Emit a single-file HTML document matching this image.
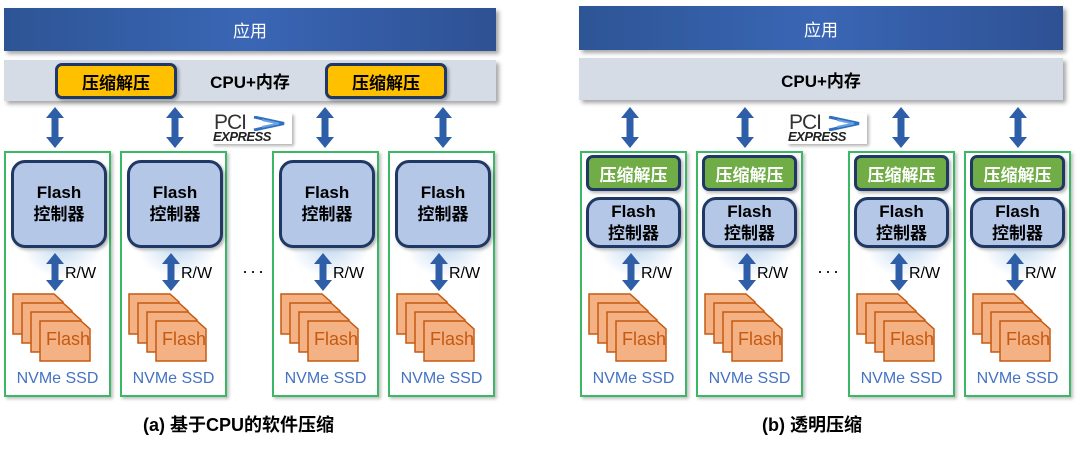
<!DOCTYPE html>
<html><head><meta charset="utf-8">
<style>
body{margin:0;width:1080px;height:449px;background:#fff;position:relative;overflow:hidden;font-family:"Liberation Sans","Noto Sans CJK SC",sans-serif;}
.a{position:absolute;box-sizing:border-box;}
.app{background:linear-gradient(90deg,#2d5595,#3a66b5 50%,#2e5193);color:#fff;font-size:17px;display:flex;align-items:center;justify-content:center;box-shadow:3px 3px 4px rgba(0,0,0,.35);}
.cpu{background:#d5dce6;font-size:17px;font-weight:bold;display:flex;align-items:center;justify-content:center;box-shadow:3px 3px 4px rgba(0,0,0,.35);}
.yel{background:#ffc000;border:3px solid #1f3864;border-radius:7px;font-size:17px;font-weight:bold;display:flex;align-items:center;justify-content:center;box-shadow:2px 2px 3px rgba(0,0,0,.3);}
.grn{background:#70ad47;border:3px solid #1f3864;border-radius:7px;font-size:17px;font-weight:bold;color:#fff;display:flex;align-items:center;justify-content:center;box-shadow:2px 2px 3px rgba(0,0,0,.3);}
.ssd{border:2px solid #3cb765;box-shadow:2px 2px 3px rgba(0,0,0,.25);background:#fff;}
.ctl{background:#b4c7e7;border:3px solid #1f3864;border-radius:14px;font-size:17px;font-weight:bold;display:flex;flex-direction:column;align-items:center;justify-content:center;line-height:22px;box-shadow:2px 2px 3px rgba(0,0,0,.3);}
.nv{color:#4472c4;font-size:16px;text-align:center;}
.rw{font-size:16px;}
.cap{font-size:18px;font-weight:bold;}
</style></head><body>
<div class="a app" style="left:4px;top:8px;width:492px;height:43px">应用</div>
<div class="a cpu" style="left:4px;top:60px;width:492px;height:41px">CPU+内存</div>
<div class="a yel" style="left:55px;top:63px;width:122px;height:36px">压缩解压</div>
<div class="a yel" style="left:325px;top:63px;width:122px;height:36px">压缩解压</div>
<div class="a app" style="left:579px;top:6px;width:484px;height:44px">应用</div>
<div class="a cpu" style="left:579px;top:58px;width:484px;height:42px">CPU+内存</div>
<div class="a cap" style="left:143px;top:411px">(a) 基于CPU的软件压缩</div>
<div class="a cap" style="left:762px;top:411px">(b) 透明压缩</div>
<div class="a" style="left:242px;top:261px;font-size:18px;letter-spacing:2px">···</div>
<div class="a" style="left:817px;top:261px;font-size:18px;letter-spacing:2px">···</div>
<div id="g"></div>
<script>
var h='';
function arrow(x,y1,y2){var w=18,hh=11,L=y2-y1,c=w/2;return '<svg class="a" style="left:'+(x-c)+'px;top:'+y1+'px" width="'+w+'" height="'+L+'"><polygon fill="#2f5ea8" points="'+c+',0 '+w+','+hh+' '+(c+3.5)+','+hh+' '+(c+3.5)+','+(L-hh)+' '+w+','+(L-hh)+' '+c+','+L+' 0,'+(L-hh)+' '+(c-3.5)+','+(L-hh)+' '+(c-3.5)+','+hh+' 0,'+hh+'"/></svg>';}
function pci(x){return '<div class="a" style="left:'+x+'px;top:113px;width:80px;height:31px;box-shadow:2px 2px 3px rgba(0,0,0,.3);background:#fff"><div class="a" style="left:2px;top:-2px;font-size:21px;color:#333;letter-spacing:-1px">PCI</div><svg class="a" style="left:40px;top:3px" width="36" height="15"><polyline points="2,1 32,7.5 2,14" fill="none" stroke="#2f6fc0" stroke-width="3"/><polyline points="10,4 27,7.5 10,11" fill="none" stroke="#6aa0e0" stroke-width="2"/></svg><div class="a" style="left:1px;top:16px;font-size:13px;font-weight:bold;font-style:italic;color:#222;letter-spacing:-0.5px">EXPRESS</div></div>';}
function ssd(x,trans){
 var s='<div class="a ssd" style="left:'+x+'px;top:151px;width:107px;height:246px"></div>';
 var cx=x+51;
 if(trans){s+='<div class="a grn" style="left:'+(x+6)+'px;top:155px;width:95px;height:36px">压缩解压</div>';
  s+='<div class="a ctl" style="left:'+(x+6)+'px;top:197px;width:95px;height:51px"><div>Flash</div><div>控制器</div></div>';}
 else s+='<div class="a ctl" style="left:'+(x+7)+'px;top:160px;width:96px;height:88px"><div>Flash</div><div>控制器</div></div>';
 s+='<div class="a" style="left:'+(x+18)+'px;top:248px;width:80px;height:30px;border-radius:0 0 40px 40px;background:radial-gradient(ellipse at 50% 0,rgba(160,195,230,.6),rgba(200,220,240,0) 70%)"></div>';
 s+=arrow(cx,253,291);
 s+='<div class="a rw" style="left:'+(cx+10)+'px;top:265px">R/W</div>';
 for(var i=0;i<4;i++){var px=x+8+i*9,py=293+i*9;
  s+='<svg class="a" style="left:'+px+'px;top:'+py+'px" width="54" height="44"><polygon points="1,1 42,1 51,9 51,41 1,41" fill="#f4b183" stroke="#c55a11" stroke-width="1.5"/></svg>';}
 s+='<div class="a" style="left:'+(x+42)+'px;top:329px;font-size:18px;color:#c55a11">Flash</div>';
 s+='<div class="a nv" style="left:'+x+'px;top:370px;width:107px">NVMe SSD</div>';
 return s;}
[4,120,272,388].forEach(function(x){h+=ssd(x,false);});
[580,696,848,964].forEach(function(x){h+=ssd(x,true);});
[55,175,325,443,630,745,901,1018].forEach(function(x){h+=arrow(x,107,148);});
h+=pci(212)+pci(787);
document.getElementById('g').innerHTML=h;
</script>
</body></html>
